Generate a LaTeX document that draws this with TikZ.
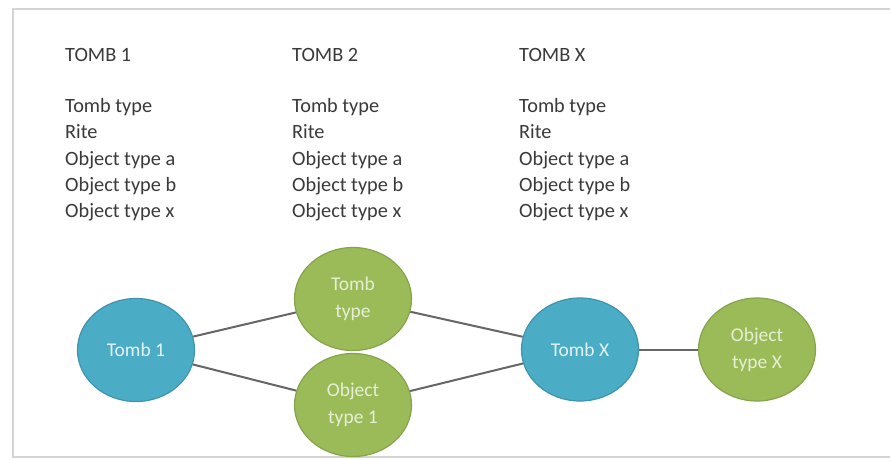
\documentclass[tikz,border=0pt]{standalone}
\usepackage{fontspec}
\setmainfont{Carlito}
\usetikzlibrary{shapes.geometric}
\definecolor{txt}{HTML}{3A3A3A}
\definecolor{aqua}{HTML}{4BACC6}
\definecolor{aquaedge}{HTML}{3E94AC}
\definecolor{olive}{HTML}{9BBB59}
\definecolor{oliveedge}{HTML}{86A34C}
\definecolor{edgegray}{HTML}{666666}
\definecolor{framegray}{HTML}{D4D4D4}
\begin{document}
\begin{tikzpicture}[x=1pt,y=-1pt,
  lbl/.style={anchor=base west,inner sep=0pt,text=txt,font=\fontsize{20.3}{26}\selectfont},
  bubble/.style={ellipse,inner sep=0pt,minimum width=117pt,minimum height=103pt,line width=1.2pt,
     align=center,font=\fontsize{19.5}{27}\selectfont},
  tombnode/.style={bubble,fill=aqua,draw=aquaedge,text=white!85!aqua},
  attrnode/.style={bubble,fill=olive,draw=oliveedge,text=white!75!olive},
  link/.style={draw=edgegray,line width=2pt}]
\useasboundingbox (0,0) rectangle (890,459);
\fill[white] (0,0) rectangle (890,459);
\draw[framegray,line width=2pt] (890,9) -- (12.5,9) -- (12.5,457) -- (890,457);
% text columns
\foreach \cx/\hd/\id in {65/TOMB 1/a,292/TOMB 2/b,519/TOMB X/c}{
  \node[lbl] (hd\id) at (\cx,61) {\hd};
  \node[lbl] (r1\id) at (\cx,112.5) {Tomb type};
  \node[lbl] (r2\id) at (\cx,138.5) {Rite};
  \node[lbl] (r3\id) at (\cx,165) {Object type a};
  \node[lbl] (r4\id) at (\cx,191.5) {Object type b};
  \node[lbl] (r5\id) at (\cx,217.5) {Object type x};
}
% nodes
\node[tombnode] (t1) at (136,350) {Tomb 1};
\node[attrnode] (tt) at (353,299) {Tomb\\type};
\node[attrnode] (o1) at (353,405) {Object\\type 1};
\node[tombnode] (tx) at (580,349.5) {Tomb X};
\node[attrnode] (ox) at (757,349.5) {Object\\type X};
% connectors
\draw[link] (t1) -- (tt);
\draw[link] (t1) -- (o1);
\draw[link] (tt) -- (tx);
\draw[link] (o1) -- (tx);
\draw[link] (tx) -- (ox);
\end{tikzpicture}
\end{document}
